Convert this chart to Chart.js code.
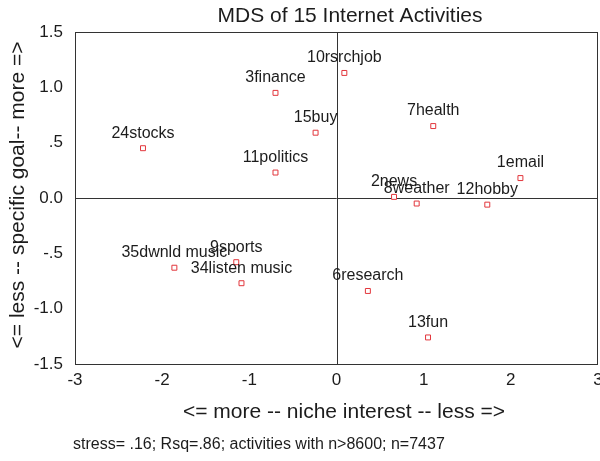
<!DOCTYPE html>
<html>
<head>
<meta charset="utf-8">
<script src="https://cdn.jsdelivr.net/npm/chart.js@4.4.1/dist/chart.umd.min.js"></script>
<style>
  html, body { margin: 0; padding: 0; background: #fff; }
  #wrap { width: 600px; height: 461px; }
</style>
</head>
<body>
<div id="wrap"><canvas id="mds" width="600" height="461"></canvas></div>
<script>
// ── DATA ───────────────────────────────────────
const activities = ['1email', '2news', '3finance', '6research', '7health', '8weather', '9sports',
  '10rsrchjob', '11politics', '12hobby', '13fun', '15buy', '24stocks', '34listen music', '35dwnld music'];
const nicheDim = [2.11, 0.66, -0.70, 0.36, 1.11, 0.92, -1.15, 0.09, -0.70, 1.73, 1.05, -0.24, -2.22, -1.09, -1.86];
const goalDim  = [0.18, 0.01, 0.95, -0.84, 0.65, -0.05, -0.58, 1.13, 0.23, -0.06, -1.26, 0.59, 0.45, -0.77, -0.63];

const xTicks = [-3, -2, -1, 0, 1, 2, 3];
const yTicks = [1.5, 1, 0.5, 0, -0.5, -1, -1.5];
const yTickText = ['1.5', '1.0', '.5', '0.0', '-.5', '-1.0', '-1.5'];

const chartTitle = 'MDS of 15 Internet Activities';
const xTitle = '<= more -- niche interest -- less =>';
const yTitle = '<= less -- specific goal-- more =>';
const footNote = 'stress= .16; Rsq=.86; activities with n>8600; n=7437';

const FONT = '"Liberation Sans", Arial, Helvetica, sans-serif';
const INK = '#1c1c1c';

// ── PLUGIN: box, zero lines, point labels, titles ─────
const mdsDecor = {
  id: 'mdsDecor',
  beforeDatasetsDraw(chart) {
    const { ctx, chartArea: a, scales: { x, y } } = chart;
    ctx.save();
    ctx.strokeStyle = '#333';
    ctx.lineWidth = 1;
    const x0 = Math.round(x.getPixelForValue(0)) + 0.5;
    const y0 = Math.round(y.getPixelForValue(0)) + 0.5;
    ctx.beginPath();
    ctx.moveTo(x0, a.top); ctx.lineTo(x0, a.bottom);
    ctx.moveTo(a.left, y0); ctx.lineTo(a.right, y0);
    ctx.stroke();
    ctx.strokeRect(Math.round(a.left) + 0.5, Math.round(a.top) + 0.5,
      Math.round(a.right - a.left) - 1, Math.round(a.bottom - a.top));
    ctx.restore();
  },
  afterDatasetsDraw(chart) {
    const { ctx } = chart;
    const pts = chart.getDatasetMeta(0).data;
    ctx.save();
    ctx.fillStyle = INK;
    ctx.font = '16px ' + FONT;
    ctx.textAlign = 'center';
    ctx.textBaseline = 'middle';
    pts.forEach((p, i) => ctx.fillText(activities[i], p.x, p.y - 15));
    ctx.restore();
  },
  afterDraw(chart) {
    const { ctx } = chart;
    ctx.save();
    ctx.fillStyle = INK;
    ctx.textBaseline = 'middle';
    ctx.textAlign = 'center';
    ctx.font = '21px ' + FONT;
    ctx.fillText(chartTitle, 350, 16);
    ctx.fillText(xTitle, 344, 412);
    ctx.save();
    ctx.translate(18, 195);
    ctx.rotate(-Math.PI / 2);
    ctx.fillText(yTitle, 0, 0);
    ctx.restore();
    ctx.textAlign = 'left';
    ctx.font = '16px ' + FONT;
    ctx.fillText(footNote, 73, 445);
    ctx.restore();
  }
};

// ── CHART ──────────────────────────────────────
new Chart(document.getElementById('mds'), {
  type: 'scatter',
  data: {
    datasets: [{
      data: nicheDim.map((v, i) => ({ x: v, y: goalDim[i] })),
      pointStyle: 'rect',
      pointRadius: 3.5,
      borderWidth: 1,
      borderColor: '#e2363c',
      backgroundColor: '#fff'
    }]
  },
  options: {
    responsive: false,
    animation: false,
    events: [],
    devicePixelRatio: 1,
    layout: { autoPadding: false, padding: { top: 32, right: 2, bottom: 0, left: 0 } },
    plugins: { legend: { display: false }, tooltip: { enabled: false } },
    scales: {
      x: {
        type: 'linear', min: -3, max: 3,
        afterBuildTicks: s => { s.ticks = xTicks.map(v => ({ value: v })); },
        afterFit: s => { s.height = 97; s.paddingLeft = 0; s.paddingRight = 0; },
        ticks: { color: INK, font: { family: FONT, size: 17 }, padding: 6, maxRotation: 0, autoSkip: false },
        grid: { display: false, drawTicks: false },
        border: { display: false }
      },
      y: {
        type: 'linear', min: -1.5, max: 1.5,
        afterBuildTicks: s => { s.ticks = yTicks.map(v => ({ value: v })); },
        afterFit: s => { s.width = 75; s.paddingTop = 0; s.paddingBottom = 0; },
        ticks: {
          color: INK, font: { family: FONT, size: 17 }, padding: 12, autoSkip: false,
          callback: v => yTickText[yTicks.indexOf(v)] ?? v
        },
        grid: { display: false, drawTicks: false },
        border: { display: false }
      }
    }
  },
  plugins: [mdsDecor]
});
</script>
</body>
</html>
